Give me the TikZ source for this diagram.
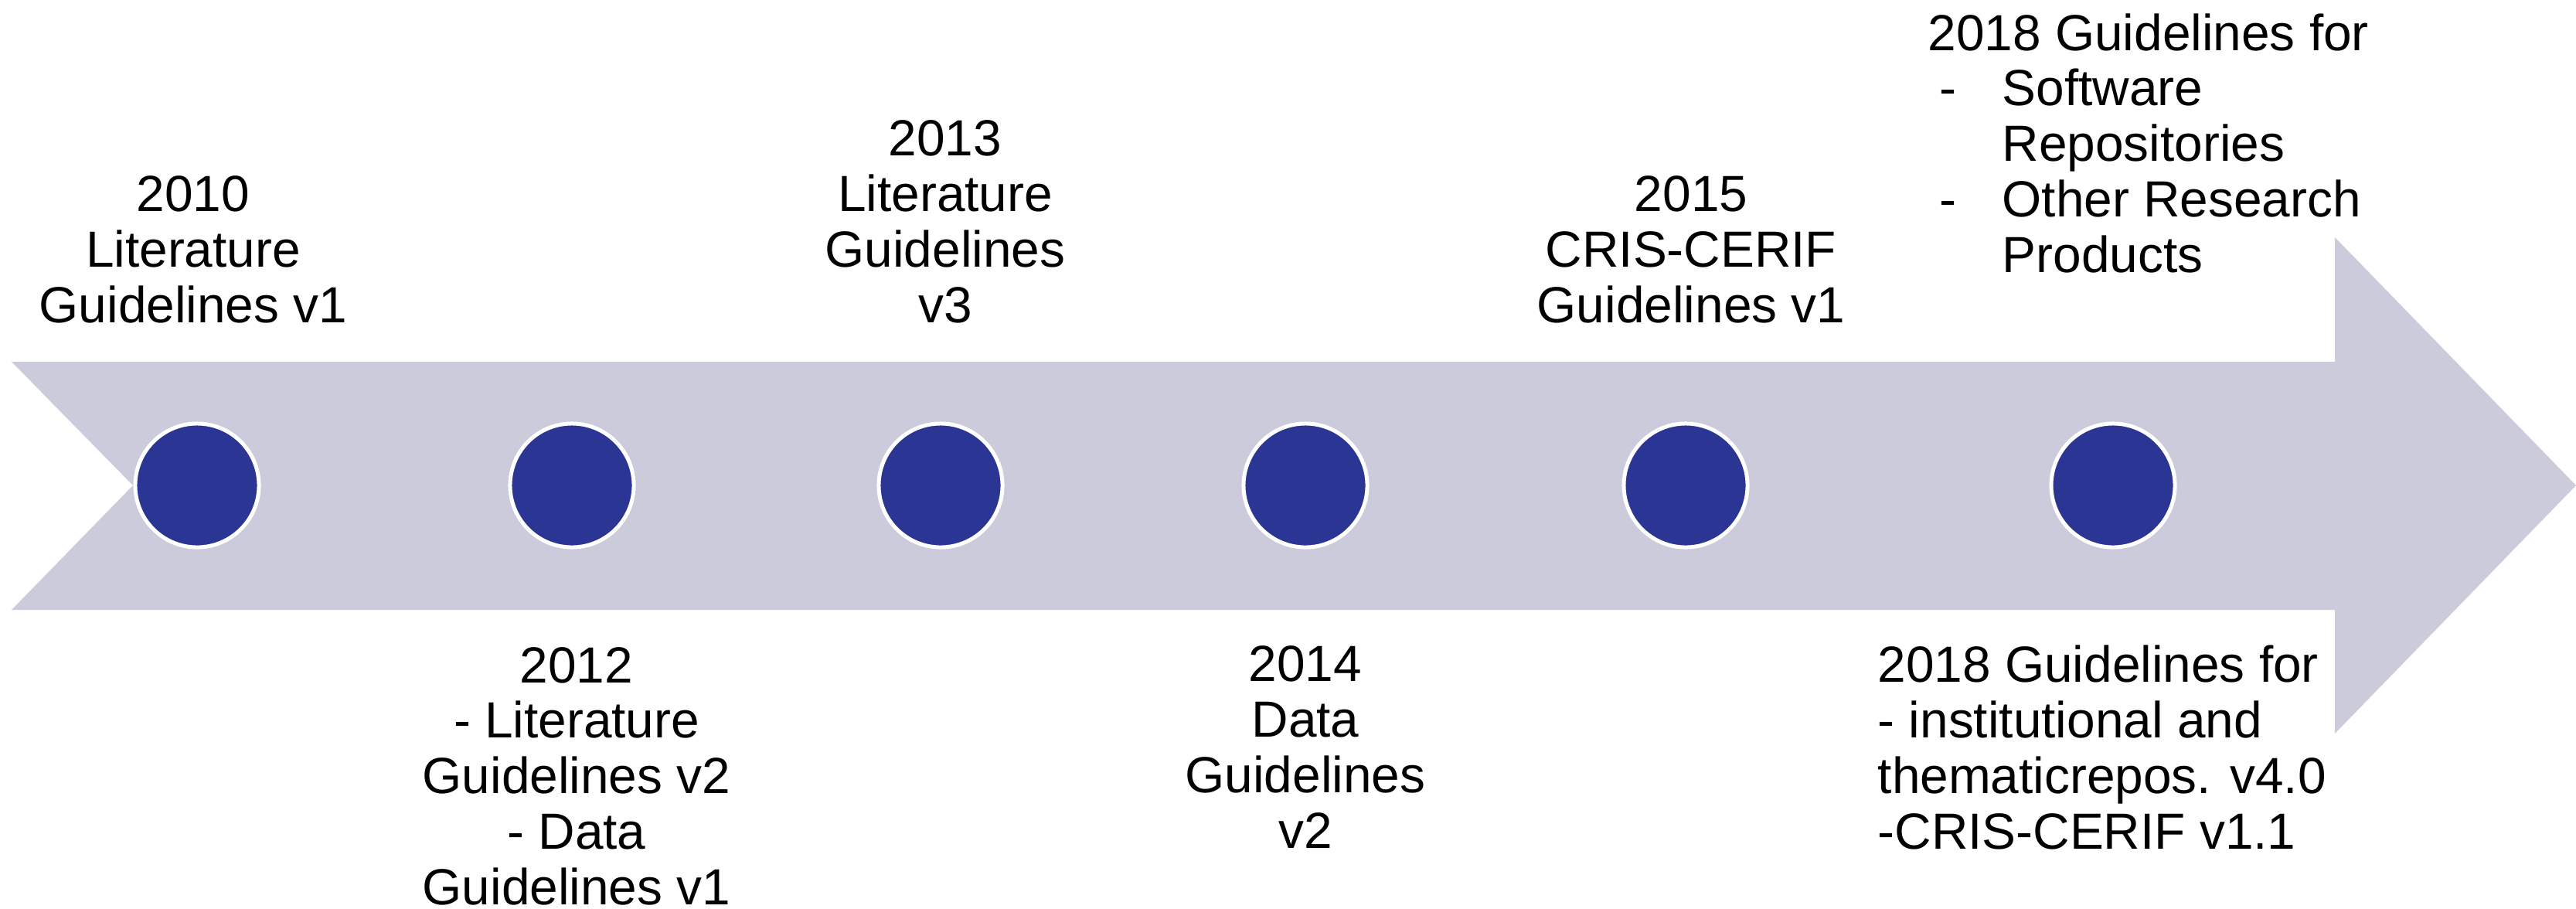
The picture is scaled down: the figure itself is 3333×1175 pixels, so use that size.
\documentclass[tikz,border=0pt]{standalone}
\usepackage{fontspec}
\setmainfont{Liberation Sans}
\usetikzlibrary{positioning}
\definecolor{bandgray}{RGB}{203,203,219}
\definecolor{dotblue}{RGB}{43,53,147}
\begin{document}
\begin{tikzpicture}[x=0.01cm, y=-0.01cm,
                    milestone/.style={
                        circle, fill=dotblue, draw=white,
                        line width=0.05cm, minimum size=1.6cm, inner sep=0pt
                    },
                    note/.style={
                        font=\fontsize{18.7}{20.4}\selectfont,
                        align=center, inner sep=0pt, anchor=base
                    },
                    listnote/.style={
                        note, align=left, anchor=base west
                    }]

    \useasboundingbox (0,0) rectangle (3333,1175);

    % the time band
    \fill[bandgray] (15,468) -- (3021,468) -- (3021,307) -- (3333,628)
        -- (3021,949) -- (3021,789) -- (15,789) -- (172,628) -- cycle;

    \foreach \name/\x in {m10/255, m12/740, m13/1217, m14/1689, m15/2181, m18/2734}
        \node[milestone] (\name) at (\x,628) {};

    % above the band (anchored at the last line)
    \node[note] (n10) at (250,417) {2010\\Literature\\Guidelines v1};
    \node[note] (n13) at (1223,417) {2013\\Literature\\Guidelines\\v3};
    \node[note] (n15) at (2188,417) {2015\\CRIS-CERIF\\Guidelines v1};
    \node[listnote] (n18a) at (2494,352) {2018 Guidelines for\\
        \hspace*{0.15cm}\makebox[0.81cm][l]{-}Software\\
        \hspace*{0.96cm}Repositories\\
        \hspace*{0.15cm}\makebox[0.81cm][l]{-}Other Research\\
        \hspace*{0.96cm}Products};

    % below the band
    \node[note] (n12) at (746,1170) {2012\\- Literature\\Guidelines v2\\- Data\\Guidelines v1};
    \node[note] (n14) at (1689,1097) {2014\\Data\\Guidelines\\v2};
    \node[listnote] (n18b) at (2429,1098) {2018 Guidelines for\\- institutional and\\thematicrepos. v4.0\\-CRIS-CERIF v1.1};

\end{tikzpicture}
\end{document}
